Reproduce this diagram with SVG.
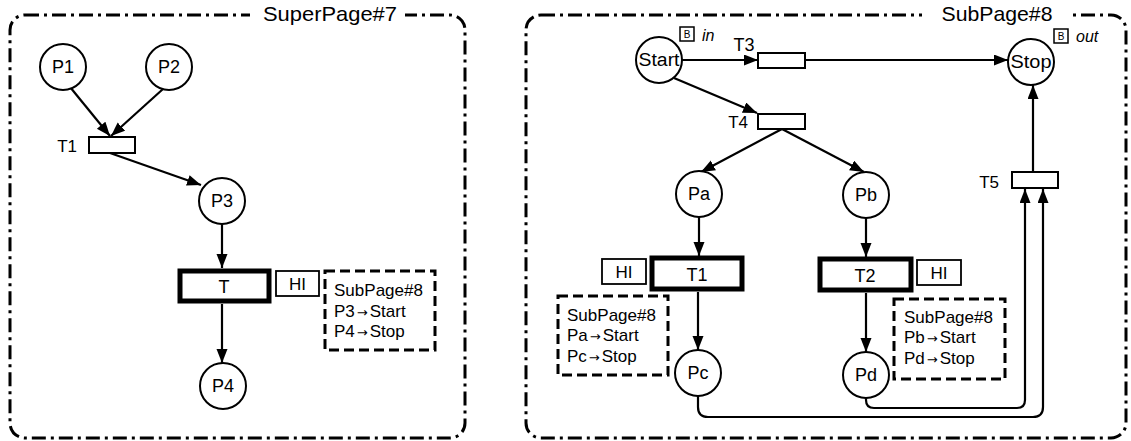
<svg xmlns="http://www.w3.org/2000/svg" width="1131" height="441" viewBox="0 0 1131 441">
<defs>
<marker id="ah" markerUnits="userSpaceOnUse" markerWidth="15" markerHeight="12" refX="14" refY="5.5" orient="auto">
<path d="M0,0 L14,5.5 L0,11 z" fill="#000"/>
</marker>
<style>
text{font-family:"Liberation Sans",Arial,sans-serif;fill:#000}
.frame{fill:none;stroke:#000;stroke-width:3;stroke-dasharray:14 5 3 5}
.title{font-size:21px;text-anchor:middle}
.place{fill:#fff;stroke:#000;stroke-width:2}
.lbl{font-size:18px;text-anchor:middle}
.tr{fill:#fff;stroke:#000;stroke-width:2}
.sub{fill:#fff;stroke:#000;stroke-width:5}
.hi{fill:#fff;stroke:#000;stroke-width:1.8}
.info{fill:none;stroke:#000;stroke-width:3;stroke-dasharray:10 5}
.itxt{font-size:17px}
.ar{font-family:"DejaVu Sans",sans-serif;font-size:13px}
.tl{font-size:17px;text-anchor:end}
.arc{fill:none;stroke:#000;stroke-width:2.2;marker-end:url(#ah)}
.bx{fill:#fff;stroke:#000;stroke-width:1.5}
.b{font-size:10px;text-anchor:middle}
.port{font-size:16px;font-style:italic}
</style>
</defs>
<rect width="1131" height="441" fill="#fff"/>

<g id="superpage-frame">
<rect class="frame" x="10" y="15" width="455" height="423" rx="15"/>
<rect x="250" y="2" width="155" height="24" fill="#fff"/>
<text class="title" x="330" y="21" textLength="134" lengthAdjust="spacingAndGlyphs">SuperPage#7</text>
</g>
<g id="subpage-frame">
<rect class="frame" x="526" y="15" width="600" height="423" rx="15"/>
<rect x="922" y="2" width="151" height="24" fill="#fff"/>
<text class="title" x="997" y="21" textLength="111" lengthAdjust="spacingAndGlyphs">SubPage#8</text>
</g>

<g id="connectors">
<path class="arc" d="M70,87 L110,136"/>
<path class="arc" d="M163,89 L111,136"/>
<path class="arc" d="M110,153 L201,185"/>
<path class="arc" d="M222,224 L222,268"/>
<path class="arc" d="M222,304 L222,363"/>
<path class="arc" d="M682,60 L758,60"/>
<path class="arc" d="M674,78 L757,113"/>
<path class="arc" d="M782,129 L701,172"/>
<path class="arc" d="M782,129 L864,172"/>
<path class="arc" d="M805,60 L1008,60"/>
<path class="arc" d="M1033,172 L1033,85"/>
<path class="arc" d="M699,217 L699,256"/>
<path class="arc" d="M698,292 L698,350"/>
<path class="arc" d="M866,218 L866,257"/>
<path class="arc" d="M866,293 L866,352"/>
<path class="arc" d="M698,396 L698,407 Q698,417 708,417 L1033,417 Q1043,417 1043,407 L1043,189"/>
<path class="arc" d="M866,398 L866,400 Q866,408 874,408 L1017,408 Q1025,408 1025,400 L1025,189"/>
</g>

<g id="P1"><circle class="place" cx="63" cy="67" r="23"/><text class="lbl" x="63" y="73">P1</text></g>
<g id="P2"><circle class="place" cx="169" cy="67" r="23"/><text class="lbl" x="169" y="73">P2</text></g>
<g id="T1-super"><rect class="tr" x="89" y="137" width="46" height="16"/><text class="tl" x="77" y="152">T1</text></g>
<g id="P3"><circle class="place" cx="222" cy="201" r="23"/><text class="lbl" x="222" y="207">P3</text></g>
<g id="T"><rect class="sub" x="180" y="271" width="89" height="30"/><text class="lbl" x="224" y="293">T</text></g>
<g id="HI-T"><rect class="hi" x="276" y="271" width="43" height="25"/><text class="lbl" x="297.5" y="290" style="font-size:17px">HI</text></g>
<g id="info-T"><rect class="info" x="325" y="271" width="110" height="79"/>
<text class="itxt" x="334" y="296" textLength="89" lengthAdjust="spacingAndGlyphs">SubPage#8</text>
<text class="itxt" x="334" y="317">P3<tspan class="ar" dx="2">→</tspan><tspan dx="2">Start</tspan></text>
<text class="itxt" x="334" y="337">P4<tspan class="ar" dx="2">→</tspan><tspan dx="2">Stop</tspan></text></g>
<g id="P4"><circle class="place" cx="223" cy="386" r="23"/><text class="lbl" x="223" y="392">P4</text></g>

<g id="Start"><circle class="place" cx="659" cy="60" r="23"/><text class="lbl" x="659" y="66" textLength="41" lengthAdjust="spacingAndGlyphs">Start</text>
<rect class="bx" x="680" y="27" width="14" height="14"/><text class="b" x="687" y="38">B</text>
<text class="port" x="702" y="41">in</text></g>
<g id="T3"><rect class="tr" x="758" y="53" width="47" height="15"/><text class="lbl" x="744" y="51">T3</text></g>
<g id="T4"><rect class="tr" x="758" y="114" width="47" height="15"/><text class="tl" x="748" y="128">T4</text></g>
<g id="Stop"><circle class="place" cx="1031" cy="62" r="23"/><text class="lbl" x="1031" y="68" textLength="41" lengthAdjust="spacingAndGlyphs">Stop</text>
<rect class="bx" x="1054" y="29" width="14" height="14"/><text class="b" x="1061" y="40">B</text>
<text class="port" x="1076" y="42">out</text></g>
<g id="T5"><rect class="tr" x="1012" y="172" width="46" height="16"/><text class="tl" x="999" y="188">T5</text></g>
<g id="Pa"><circle class="place" cx="699" cy="194" r="23"/><text class="lbl" x="699" y="200">Pa</text></g>
<g id="Pb"><circle class="place" cx="866" cy="195" r="23"/><text class="lbl" x="866" y="201">Pb</text></g>
<g id="T1-sub"><rect class="sub" x="652" y="258" width="90" height="31"/><text class="lbl" x="697" y="281">T1</text></g>
<g id="HI-T1"><rect class="hi" x="602" y="259" width="44" height="25"/><text class="lbl" x="624" y="278" style="font-size:17px">HI</text></g>
<g id="info-T1"><rect class="info" x="558" y="296" width="110" height="79"/>
<text class="itxt" x="567" y="321" textLength="89" lengthAdjust="spacingAndGlyphs">SubPage#8</text>
<text class="itxt" x="567" y="341">Pa<tspan class="ar" dx="2">→</tspan><tspan dx="2">Start</tspan></text>
<text class="itxt" x="567" y="362">Pc<tspan class="ar" dx="2">→</tspan><tspan dx="2">Stop</tspan></text></g>
<g id="T2"><rect class="sub" x="820" y="259" width="91" height="31"/><text class="lbl" x="865" y="282">T2</text></g>
<g id="HI-T2"><rect class="hi" x="917" y="260" width="44" height="25"/><text class="lbl" x="939" y="279" style="font-size:17px">HI</text></g>
<g id="info-T2"><rect class="info" x="894" y="299" width="111" height="80"/>
<text class="itxt" x="904" y="323" textLength="89" lengthAdjust="spacingAndGlyphs">SubPage#8</text>
<text class="itxt" x="904" y="343">Pb<tspan class="ar" dx="2">→</tspan><tspan dx="2">Start</tspan></text>
<text class="itxt" x="904" y="364">Pd<tspan class="ar" dx="2">→</tspan><tspan dx="2">Stop</tspan></text></g>
<g id="Pc"><circle class="place" cx="698" cy="373" r="23"/><text class="lbl" x="698" y="379">Pc</text></g>
<g id="Pd"><circle class="place" cx="866" cy="375" r="23"/><text class="lbl" x="866" y="381">Pd</text></g>
</svg>
